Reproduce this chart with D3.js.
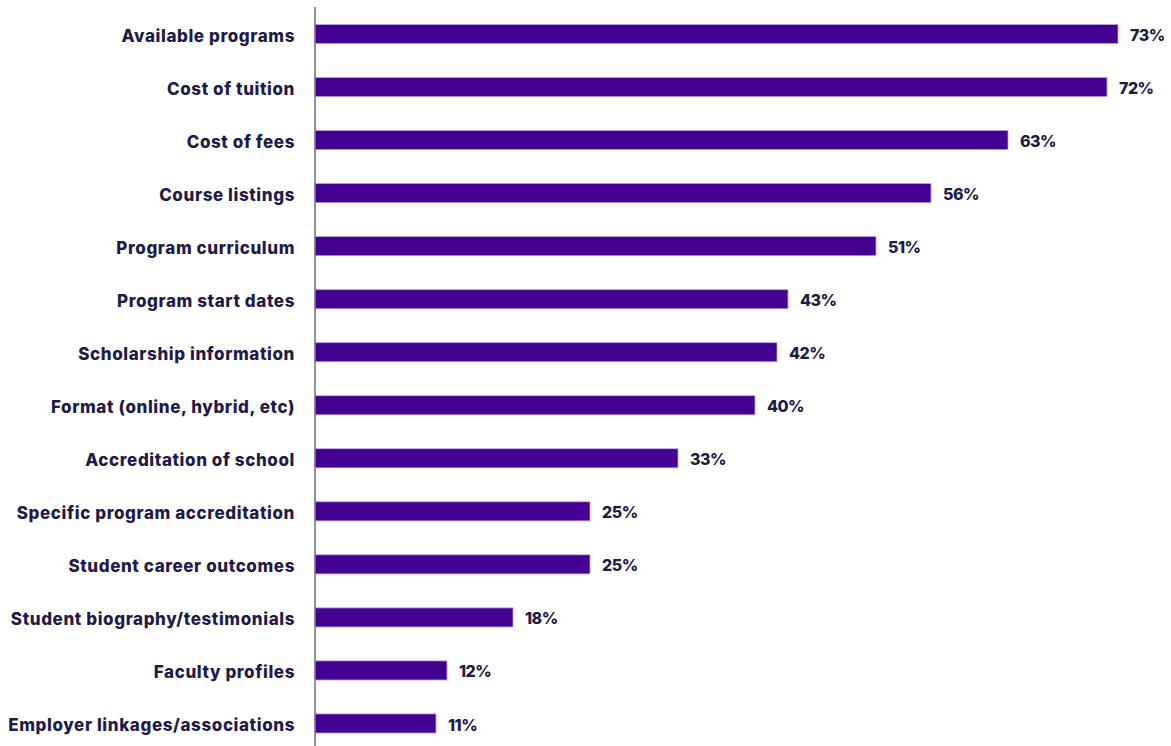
<!DOCTYPE html>
<html>
<head>
<meta charset="utf-8">
<script src="https://cdn.jsdelivr.net/npm/d3@7"></script>
<style>
  html, body { margin: 0; padding: 0; background: #ffffff; }
  svg { display: block; }
  text { font-family: "Inter", "Lato", sans-serif; font-weight: 800; fill: #1f1b48; }
</style>
</head>
<body>
<svg id="chart" width="1171" height="746"></svg>
<script>
// Share of respondents citing each item
const categories = [
  "Available programs",
  "Cost of tuition",
  "Cost of fees",
  "Course listings",
  "Program curriculum",
  "Program start dates",
  "Scholarship information",
  "Format (online, hybrid, etc)",
  "Accreditation of school",
  "Specific program accreditation",
  "Student career outcomes",
  "Student biography/testimonials",
  "Faculty profiles",
  "Employer linkages/associations"
];
const values = [73, 72, 63, 56, 51, 43, 42, 40, 33, 25, 25, 18, 12, 11];

const svg = d3.select("#chart");
const margin = { top: 7, left: 315 };

const x = d3.scaleLinear().domain([0, 73]).range([margin.left, 1118]);
const y = d3.scaleBand()
  .domain(categories)
  .range([7.5, 750])
  .paddingInner(0.64)
  .paddingOuter(0.32);

const data = categories.map((c, i) => ({ c, v: values[i] }));

// Bars
svg.append("g")
  .selectAll("rect")
  .data(data)
  .join("rect")
  .attr("x", x(0))
  .attr("y", d => y(d.c))
  .attr("width", d => x(d.v) - x(0))
  .attr("height", y.bandwidth())
  .attr("fill", "#430091")
  .attr("stroke", "#b9a2e6")
  .attr("stroke-width", 0.8);

// Value labels
svg.append("g")
  .selectAll("text")
  .data(data)
  .join("text")
  .attr("x", d => x(d.v) + 12)
  .attr("y", d => y(d.c) + y.bandwidth() / 2)
  .attr("dy", "0.44em")
  .attr("font-size", 16)
  .attr("letter-spacing", -0.5)
  .text(d => d.v + "%");

// Category axis
const axis = svg.append("g")
  .attr("transform", `translate(${x(0)},0)`)
  .call(d3.axisLeft(y).tickSize(0).tickPadding(20));
axis.select(".domain")
  .attr("d", `M0,7V746`)
  .attr("stroke", "#6d6b82")
  .attr("stroke-width", 1.5);
axis.selectAll("text")
  .attr("font-size", 17)
  .attr("letter-spacing", 0.6)
  .attr("font-family", "Inter, Lato, sans-serif")
  .attr("font-weight", 800)
  .attr("fill", "#1f1b48")
  .attr("dy", "0.44em");
</script>
</body>
</html>
